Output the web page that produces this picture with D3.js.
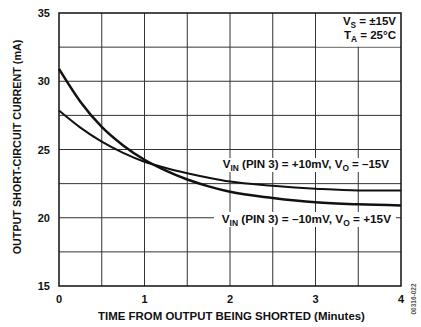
<!DOCTYPE html>
<html><head><meta charset="utf-8">
<script src="https://cdn.jsdelivr.net/npm/d3@7"></script>
<style>
html,body{margin:0;padding:0;background:#fff;}
text{font-family:"Liberation Sans",Arial,sans-serif;font-weight:bold;fill:#111;}
</style></head>
<body><svg id="c" width="421" height="327"></svg>
<script>
const times = [0, 0.25, 0.5, 0.75, 1, 1.25, 1.5, 1.75, 2, 2.5, 3, 3.5, 4];
const curveNeg = [30.9, 28.5, 26.65, 25.3, 24.25, 23.45, 22.8, 22.3, 21.9, 21.45, 21.13, 20.98, 20.9];
const curvePos = [27.85, 26.6, 25.57, 24.75, 24.1, 23.64, 23.26, 22.93, 22.65, 22.35, 22.13, 22.0, 22.0];
const xTicks = [0, 1, 2, 3, 4];
const yTicks = [15, 20, 25, 30, 35];
const xGrid = [0.5, 1, 1.5, 2, 2.5, 3, 3.5];
const yGrid = [17.5, 20, 22.5, 25, 27.5, 30, 32.5];

const svg = d3.select("#c");
const L = 59, R = 401, T = 13, B = 286;
const x = d3.scaleLinear().domain([0, 4]).range([L, R]);
const y = d3.scaleLinear().domain([15, 35]).range([B, T]);

// grid
const g = svg.append("g");
g.selectAll(".vx").data(xGrid).join("line")
  .attr("x1", d => x(d)).attr("x2", d => x(d)).attr("y1", T).attr("y2", B)
  .attr("stroke", "#333").attr("stroke-width", 1);
g.selectAll(".hy").data(yGrid).join("line")
  .attr("x1", L).attr("x2", R).attr("y1", d => y(d)).attr("y2", d => y(d))
  .attr("stroke", "#333").attr("stroke-width", 1);

// white boxes behind annotations
svg.append("rect").attr("x", x(3) + 1).attr("y", T + 1).attr("width", R - x(3) - 2).attr("height", y(32.5) - T - 1.5).attr("fill", "#fff");
svg.append("rect").attr("x", 217).attr("y", 158).attr("width", 178).attr("height", 14).attr("fill", "#fff");
svg.append("rect").attr("x", 214).attr("y", 212).attr("width", 182).attr("height", 15).attr("fill", "#fff");

// frame
svg.append("rect").attr("x", L).attr("y", T).attr("width", R - L).attr("height", B - T)
  .attr("fill", "none").attr("stroke", "#111").attr("stroke-width", 1.5);

// curves
const line = d3.line().x((d, i) => x(times[i])).y(d => y(d)).curve(d3.curveMonotoneX);
svg.append("path").attr("d", line(curvePos)).attr("fill", "none").attr("stroke", "#111").attr("stroke-width", 2);
svg.append("path").attr("d", line(curveNeg)).attr("fill", "none").attr("stroke", "#111").attr("stroke-width", 2.5);

// fit helper: scale font so text spans target width
function fit(sel, target) {
  const len = sel.node().getComputedTextLength();
  const fs = parseFloat(sel.attr("font-size"));
  const nf = fs * target / len;
  sel.attr("font-size", nf);
  sel.selectAll("tspan.sub").attr("font-size", nf * 0.72);
  return sel;
}

// tick labels
svg.selectAll(".yt").data(yTicks).join("text")
  .attr("x", 50).attr("y", d => y(d) + 4).attr("text-anchor", "end")
  .attr("font-size", 11).text(d => d);
svg.selectAll(".xt").data(xTicks).join("text")
  .attr("x", d => x(d)).attr("y", 303).attr("text-anchor", "middle")
  .attr("font-size", 11).text(d => d);

fit(svg.append("text").attr("x", 231.5).attr("y", 320).attr("text-anchor", "middle")
  .attr("font-size", 10).text("TIME FROM OUTPUT BEING SHORTED (Minutes)"), 267);
fit(svg.append("text").attr("transform", "translate(21,147) rotate(-90)").attr("text-anchor", "middle")
  .attr("font-size", 10).text("OUTPUT SHORT-CIRCUIT CURRENT (mA)"), 215);

// annotation with subscripts
function sub(t, parts) {
  parts.forEach(p => {
    const ts = t.append("tspan").text(p[0]);
    if (p[1]) ts.attr("class", "sub").attr("font-size", 7).attr("dy", 3);
    if (p[2]) ts.attr("dy", -3);
  });
  return t;
}
fit(sub(svg.append("text").attr("x", 396).attr("y", 25).attr("text-anchor", "end").attr("font-size", 10),
  [["V"], ["S", true], [" = ±15V", false, true]]), 53);
fit(sub(svg.append("text").attr("x", 396).attr("y", 39).attr("text-anchor", "end").attr("font-size", 10),
  [["T"], ["A", true], [" = 25°C", false, true]]), 52);

fit(sub(svg.append("text").attr("x", 389).attr("y", 168).attr("text-anchor", "end").attr("font-size", 10),
  [["V"], ["IN", true], [" (PIN 3) = +10mV, V", false, true], ["O", true], [" = –15V", false, true]]), 166);
fit(sub(svg.append("text").attr("x", 391).attr("y", 223).attr("text-anchor", "end").attr("font-size", 10),
  [["V"], ["IN", true], [" (PIN 3) = –10mV, V", false, true], ["O", true], [" = +15V", false, true]]), 169);

svg.append("text").attr("transform", "translate(416,299) rotate(-90)").attr("text-anchor", "middle")
  .attr("font-size", 6.5).attr("font-weight", "normal").style("fill", "#555").text("00316-022");
</script>
</body></html>
